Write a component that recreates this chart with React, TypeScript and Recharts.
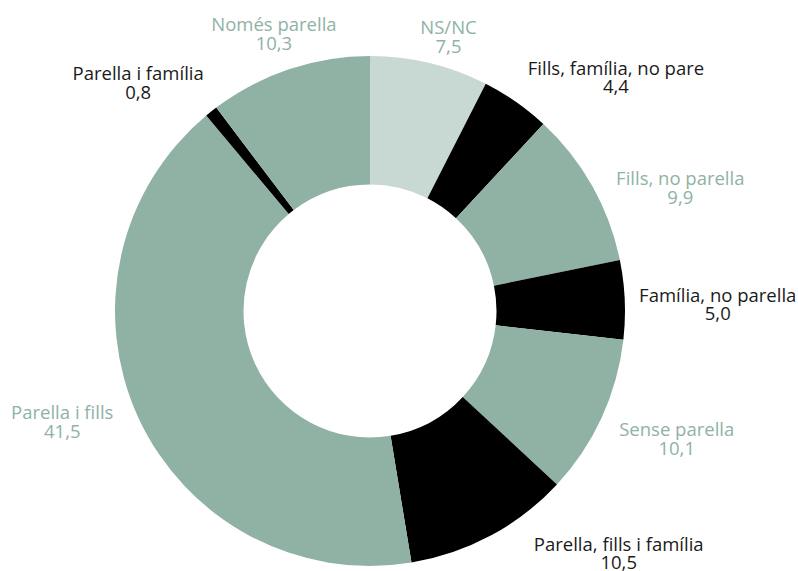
import React from "react"
import { Cell, Pie, PieChart } from "recharts"

const categories = [
  "NS/NC",
  "Fills, família, no pare",
  "Fills, no parella",
  "Família, no parella",
  "Sense parella",
  "Parella, fills i família",
  "Parella i fills",
  "Parella i família",
  "Només parella",
]
const values = [7.5, 4.4, 9.9, 5.0, 10.1, 10.5, 41.5, 0.8, 10.3]
const valueLabels = ["7,5", "4,4", "9,9", "5,0", "10,1", "10,5", "41,5", "0,8", "10,3"]

const GREEN = "#8fb2a5"
const LIGHT = "#c7d9d2"
const BLACK = "#000000"
const sliceColors = [LIGHT, BLACK, GREEN, BLACK, GREEN, BLACK, GREEN, BLACK, GREEN]
const textColors = ["#8fb2a5", "#1a1a1a", "#8fb2a5", "#1a1a1a", "#8fb2a5", "#1a1a1a", "#8fb2a5", "#1a1a1a", "#8fb2a5"]

// label nudges from the outer arc midpoint of each slice
const labelNudge = [
  [19, -29],
  [100, -27],
  [88, -1],
  [93, 2],
  [75, 19],
  [128, 15],
  [-76, 2],
  [-73, -31],
  [-15, -38],
]

const data = categories.map((name, i) => ({ name, value: values[i], label: valueLabels[i] }))

const RAD = Math.PI / 180

const renderLabel = (props: any) => {
  const { cx, cy, midAngle, outerRadius, index } = props
  const x = cx + outerRadius * Math.cos(-midAngle * RAD) + labelNudge[index][0]
  const y = cy + outerRadius * Math.sin(-midAngle * RAD) + labelNudge[index][1]
  return (
    <text
      x={x}
      y={y}
      textAnchor="middle"
      fill={textColors[index]}
      fontSize={18.5}
      fontFamily="'Open Sans', sans-serif"
    >
      <tspan x={x} dy={0}>{categories[index]}</tspan>
      <tspan x={x} dy={18.5}>{valueLabels[index]}</tspan>
    </text>
  )
}

export default function App() {
  return (
    <div style={{ position: "fixed", left: 0, top: 0, width: 798, height: 571, background: "#fff" }}>
      <PieChart width={798} height={571} margin={{ top: 0, right: 0, bottom: 0, left: 0 }}>
        <Pie
          data={data}
          dataKey="value"
          nameKey="name"
          cx={370}
          cy={311}
          innerRadius={126.5}
          outerRadius={255}
          startAngle={90}
          endAngle={-270}
          stroke="none"
          labelLine={false}
          label={renderLabel}
          isAnimationActive={false}
        >
          {data.map((d, i) => (
            <Cell key={d.name} fill={sliceColors[i]} />
          ))}
        </Pie>
      </PieChart>
    </div>
  )
}
